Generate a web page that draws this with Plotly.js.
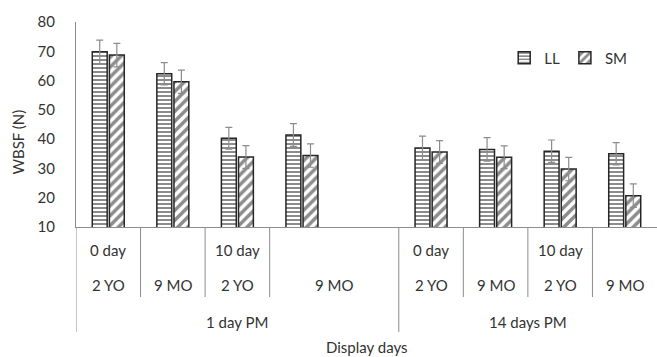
<!DOCTYPE html>
<html><head><meta charset="utf-8">
<script src="https://cdn.plot.ly/plotly-3.0.1.min.js"></script>
<style>html,body{margin:0;padding:0;background:#fff}</style>
</head><body><div id="chart" style="width:657px;height:357px"></div>
<script>
// Category slots (slot 4 is the empty second half of "9 MO" under 1 day PM)
const dayLabels = ['0 day', '', '10 day', '', '', '0 day', '', '10 day', ''];
const ageText = ['2 YO', '9 MO', '2 YO', '9 MO', '2 YO', '9 MO', '2 YO', '9 MO'];
const ageFrom = [0, 1, 2, 3, 5, 6, 7, 8];
const ageTo   = [0, 1, 2, 4, 5, 6, 7, 8];
const pmText = ['1 day PM', '14 days PM'];
const pmFrom = [0, 5];
const pmTo   = [4, 8];

const seriesNames = ['LL', 'SM'];
const llValues = [69.8, 62.3, 40.3, 41.4, null, 37.0, 36.5, 35.9, 35.0];
const llErrors = [4.0, 3.8, 3.7, 3.9, null, 4.0, 4.0, 3.8, 3.8];
const smValues = [68.7, 59.6, 33.9, 34.4, null, 35.6, 33.8, 29.8, 20.7];
const smErrors = [4.0, 4.0, 3.9, 4.0, null, 3.9, 3.9, 4.0, 4.0];

const yTitle = 'WBSF (N)';
const xTitle = 'Display days';

const slotIdx = llValues.map((_, i) => i);
const fontFam = 'Lato, "Open Sans", sans-serif';
const txtColor = '#333333';
const axisColor = '#8c8c8c';
const plotTop = 22, plotBottom = 227, H = 357;
const plotH = plotBottom - plotTop;
const px = p => -(p - plotBottom) / plotH; // pixel row -> paper y
const lblFont = {family: fontFam, size: 15, color: txtColor};

function barTrace(name, vals, errs, shape, size) {
  return {
    type: 'bar', name: name, x: slotIdx, y: vals,
    marker: {
      color: '#ffffff',
      line: {color: '#262626', width: 1.5},
      pattern: {shape: shape, fgcolor: '#1a1a1a', bgcolor: '#ffffff', size: size, solidity: 0.5, fillmode: 'overlay'}
    },
    error_y: {type: 'data', array: errs, visible: true, color: '#8c8c8c', thickness: 1.2, width: 3.5}
  };
}

const traces = [
  barTrace(seriesNames[0], llValues, llErrors, '-', 4),
  barTrace(seriesNames[1], smValues, smErrors, '/', 7)
];

const annotations = [];
const shapes = [];
const rowY = [250, 285, 322];
dayLabels.forEach((t, i) => { if (t) annotations.push({x: i, y: px(rowY[0]), xref: 'x', yref: 'paper', text: t, showarrow: false, xanchor: 'center', yanchor: 'middle', font: lblFont}); });
ageText.forEach((t, k) => annotations.push({x: (ageFrom[k] + ageTo[k]) / 2, y: px(rowY[1]), xref: 'x', yref: 'paper', text: t, showarrow: false, xanchor: 'center', yanchor: 'middle', font: lblFont}));
pmText.forEach((t, k) => annotations.push({x: (pmFrom[k] + pmTo[k]) / 2, y: px(rowY[2]), xref: 'x', yref: 'paper', text: t, showarrow: false, xanchor: 'center', yanchor: 'middle', font: lblFont}));
annotations.push({x: 0.5, y: px(347), xref: 'paper', yref: 'paper', text: xTitle, showarrow: false, xanchor: 'center', yanchor: 'middle', font: lblFont});
annotations.push({x: (17 - 76) / 581, y: px(142.5), xref: 'paper', yref: 'paper', text: yTitle, textangle: -90, showarrow: false, xanchor: 'center', yanchor: 'middle', font: {family: fontFam, size: 15, color: txtColor}});

// separators
ageFrom.forEach((f, k) => {
  if (k > 0 && pmFrom.indexOf(f) < 0) shapes.push({type: 'line', xref: 'x', yref: 'paper', x0: f - 0.5, x1: f - 0.5, y0: 0, y1: px(297), line: {color: axisColor, width: 1}});
});
pmFrom.forEach(f => shapes.push({type: 'line', xref: 'x', yref: 'paper', x0: f - 0.5, x1: f - 0.5, y0: 0, y1: px(332), line: {color: axisColor, width: 1}}));

const layout = {
  width: 657, height: 357,
  margin: {l: 76, r: 0, t: plotTop, b: H - plotBottom, pad: 0},
  paper_bgcolor: '#ffffff', plot_bgcolor: '#ffffff',
  font: {family: fontFam, size: 15, color: txtColor},
  barmode: 'group', bargap: 0.47, bargroupgap: 0.13,
  showlegend: true,
  legend: {orientation: 'h', x: 0.737, y: px(58), xanchor: 'left', yanchor: 'middle', font: {size: 15, color: txtColor}, bgcolor: 'rgba(0,0,0,0)', itemwidth: 30, traceorder: 'normal'},
  xaxis: {range: [-0.5, slotIdx.length - 0.5], showticklabels: false, ticks: '', showgrid: false, zeroline: false, showline: true, linecolor: axisColor, linewidth: 1, fixedrange: true},
  yaxis: {range: [10, 80], dtick: 10, tick0: 10, showgrid: false, zeroline: false, showline: true, linecolor: axisColor, linewidth: 1, ticks: 'outside', ticklen: 17, tickcolor: 'rgba(0,0,0,0)', tickfont: {size: 15, color: txtColor}},
  annotations: annotations,
  shapes: shapes
};

Plotly.newPlot('chart', traces, layout, {staticPlot: true, displayModeBar: false});
</script></body></html>
